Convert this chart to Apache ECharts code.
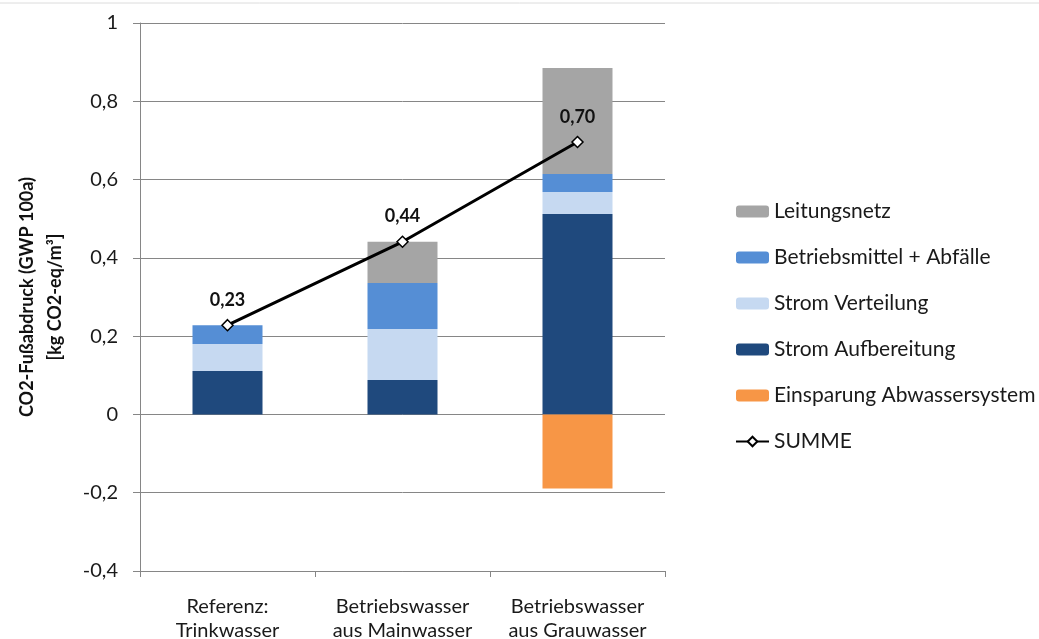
<!DOCTYPE html>
<html>
<head>
<meta charset="utf-8">
<title>CO2-Fußabdruck</title>
<script src="https://cdn.jsdelivr.net/npm/echarts@6/dist/echarts.min.js"></script>
<style>
html,body{margin:0;padding:0;background:#fff;}
#main{width:1039px;height:639px;}
</style>
</head>
<body>
<div id="main"></div>
<script>
//数据
var categories = ['Referenz:\nTrinkwasser', 'Betriebswasser\naus Mainwasser', 'Betriebswasser\naus Grauwasser'];
var stromAufbereitung = [0.111, 0.088, 0.512];
var stromVerteilung = [0.069, 0.130, 0.056];
var betriebsmittel = [0.048, 0.118, 0.046];
var leitungsnetz = [0, 0.105, 0.271];
var einsparung = [0, 0, -0.189];
var summe = [0.228, 0.441, 0.696];
var yTicks = { min: -0.4, max: 1, interval: 0.2 };

var font = 'Lato, "Open Sans", sans-serif';

function comma(v, digits) {
	var s = digits == null ? String(Math.round(v * 10) / 10) : v.toFixed(digits);
	return s.replace('.', ',');
}

function barSeries(name, data, color) {
	return {
		name: name,
		type: 'bar',
		stack: 'A',
		barWidth: 70,
		data: data,
		itemStyle: { color: color },
		emphasis: { disabled: true }
	};
}

var option = {
	animation: false,
	textStyle: { fontFamily: font },
	graphic: [{
		type: 'line',
		shape: { x1: 0, y1: 3, x2: 1039, y2: 3 },
		style: { stroke: '#dcdcdc', lineWidth: 1 }
	}],
	grid: { left: 140, top: 23, right: 374, bottom: 68, outerBoundsMode: 'none' },
	legend: {
		orient: 'vertical',
		left: 735,
		top: 201,
		padding: 0,
		itemWidth: 33,
		itemHeight: 12,
		itemGap: 25,
		textStyle: { fontSize: 21, color: '#1a1a1a', fontFamily: font },
		data: ['Leitungsnetz', 'Betriebsmittel + Abfälle', 'Strom Verteilung', 'Strom Aufbereitung', 'Einsparung Abwassersystem', 'SUMME']
	},
	xAxis: [{
		type: 'category',
		data: categories,
		axisLine: { show: false },
		axisTick: { show: false },
		axisLabel: { interval: 0, fontSize: 20, color: '#1a1a1a', lineHeight: 24, margin: 24, fontFamily: font }
	}, {
		type: 'category',
		data: categories,
		position: 'bottom',
		axisLine: { onZero: true, lineStyle: { color: '#868686', width: 1 } },
		axisTick: { show: true, length: 6, lineStyle: { color: '#868686' } },
		axisLabel: { show: false }
	}],
	yAxis: {
		type: 'value',
		min: yTicks.min,
		max: yTicks.max,
		interval: yTicks.interval,
		name: 'CO2-Fußabdruck (GWP 100a)\n[kg CO2-eq/m³]',
		nameLocation: 'middle',
		nameRotate: 90,
		nameGap: 71,
		nameTextStyle: { fontSize: 18, fontWeight: 'bold', color: '#111', lineHeight: 28, fontFamily: font },
		axisLine: { show: true, lineStyle: { color: '#868686' } },
		axisTick: { show: true, length: 7, lineStyle: { color: '#868686' } },
		axisLabel: {
			fontSize: 20, color: '#1a1a1a', margin: 22, fontFamily: font,
			formatter: function(v) { return comma(v); }
		},
		splitLine: { lineStyle: { color: '#868686', width: 1 } }
	},
	series: [
		barSeries('Strom Aufbereitung', stromAufbereitung, '#1F497D'),
		barSeries('Strom Verteilung', stromVerteilung, '#C6D9F1'),
		barSeries('Betriebsmittel + Abfälle', betriebsmittel, '#558ED5'),
		barSeries('Leitungsnetz', leitungsnetz, '#A5A5A5'),
		barSeries('Einsparung Abwassersystem', einsparung, '#F79646'),
		{
			name: 'SUMME',
			type: 'line',
			data: summe,
			symbol: 'diamond',
			symbolSize: 11,
			z: 5,
			lineStyle: { color: '#000', width: 3 },
			itemStyle: { color: '#fff', borderColor: '#000', borderWidth: 1.5 },
			label: {
				show: true,
				position: 'top',
				distance: 10,
				fontSize: 18,
				fontWeight: 'bold',
				color: '#111',
				fontFamily: font,
				formatter: function(p) { return comma(p.value, 2); }
			},
			emphasis: { disabled: true }
		}
	]
};

var myChart = echarts.init(document.getElementById('main'));
myChart.setOption(option);
</script>
</body>
</html>
